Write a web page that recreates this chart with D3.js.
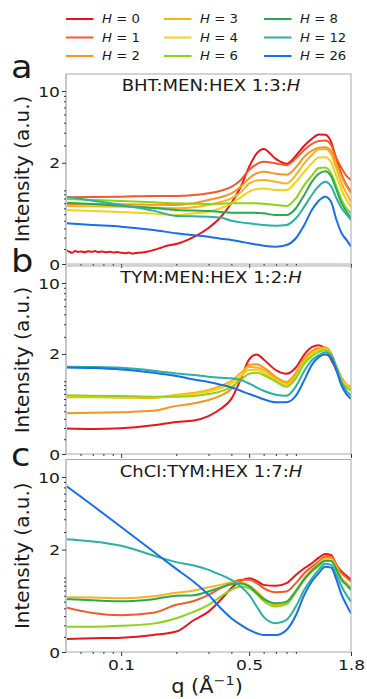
<!DOCTYPE html>
<html>
<head>
<meta charset="utf-8">
<script src="https://cdn.jsdelivr.net/npm/d3@7"></script>
<style>
  body { margin: 0; background: #fff; }
  svg { display: block; }
  text { font-family: "DejaVu Sans", sans-serif; fill: #1a1a1a; }
</style>
</head>
<body>
<svg id="chart" width="367" height="699"></svg>
<script>
// water content H and its colour
const hLevels = [0, 1, 2, 3, 4, 6, 8, 12, 26];
const hColors = ["#e8161b", "#f15a29", "#f7941d", "#fbb117", "#f4d119", "#8dd316", "#27ab4c", "#2bb1a0", "#1670e8"];

const qGrid = [0.05, 0.07, 0.1, 0.15, 0.2, 0.25, 0.3, 0.35, 0.4, 0.45, 0.5, 0.55, 0.6, 0.7, 0.8, 0.9, 1.0, 1.1, 1.2, 1.3, 1.4, 1.5, 1.6, 1.7, 1.8];
// denser grid for the noisy H = 0 trace of panel a
const qA0 = [0.05, 0.052, 0.054, 0.056, 0.058, 0.06, 0.063, 0.066, 0.069, 0.072, 0.075, 0.079, 0.083, 0.087, 0.091, 0.095, 0.1, 0.105, 0.11, 0.115, 0.12, 0.13, 0.14, 0.15, 0.165, 0.18, 0.2, 0.25, 0.3, 0.35, 0.4, 0.45, 0.5, 0.55, 0.6, 0.7, 0.8, 0.9, 1.0, 1.1, 1.2, 1.3, 1.4, 1.5, 1.6, 1.7, 1.8];

const qTicks = [0.1, 0.5, 1.8];
const qMinor = [0.06, 0.07, 0.08, 0.09, 0.2, 0.3, 0.4, 0.6, 0.7, 0.8, 0.9];
const yTicks = [0, 2, 10];
const yMinor = [0.1, 0.2, 0.3, 0.4, 0.5, 0.6, 0.7, 0.8, 0.9, 1, 3, 4, 5, 6, 7, 8, 9];

// panel a: BHT:MEN:HEX 1:3:H
const aH0 = [0.092, 0.080, 0.072, 0.085, 0.078, 0.082, 0.076, 0.083, 0.079, 0.084, 0.077, 0.081, 0.075, 0.080, 0.074, 0.078, 0.072, 0.069, 0.073, 0.066, 0.070, 0.074, 0.081, 0.092, 0.11, 0.128, 0.141, 0.207, 0.306, 0.456, 0.705, 1.10, 1.81, 2.50, 2.77, 2.19, 1.95, 2.36, 2.98, 3.48, 3.84, 3.82, 3.27, 2.14, 1.49, 1.15, 0.96];
const aH1 = [0.83, 0.835, 0.843, 0.858, 0.858, 0.88, 0.924, 0.99, 1.10, 1.31, 1.68, 1.94, 2.05, 1.97, 1.89, 2.22, 2.70, 3.10, 3.32, 3.35, 3.03, 2.22, 1.75, 1.45, 1.31];
const aH2 = [0.684, 0.684, 0.677, 0.671, 0.664, 0.697, 0.768, 0.828, 0.924, 1.10, 1.37, 1.55, 1.61, 1.53, 1.49, 1.79, 2.31, 2.66, 2.85, 2.87, 2.64, 1.97, 1.43, 1.12, 0.924];
const aH3 = [0.645, 0.638, 0.632, 0.614, 0.602, 0.62, 0.664, 0.725, 0.805, 0.95, 1.20, 1.29, 1.31, 1.25, 1.20, 1.49, 1.97, 2.40, 2.74, 2.76, 2.46, 1.75, 1.20, 0.924, 0.732];
const aH4 = [0.571, 0.554, 0.537, 0.509, 0.487, 0.514, 0.542, 0.602, 0.697, 0.828, 0.967, 1.04, 1.05, 1.01, 1.01, 1.25, 1.61, 1.97, 2.26, 2.28, 2.04, 1.43, 1.01, 0.768, 0.632];
const aH6 = [0.79, 0.768, 0.746, 0.718, 0.697, 0.69, 0.684, 0.69, 0.697, 0.697, 0.697, 0.697, 0.69, 0.664, 0.645, 0.805, 1.15, 1.46, 1.76, 1.79, 1.55, 1.10, 0.768, 0.602, 0.514];
const aH8 = [0.711, 0.684, 0.651, 0.608, 0.571, 0.56, 0.554, 0.537, 0.525, 0.525, 0.525, 0.52, 0.514, 0.487, 0.487, 0.602, 0.883, 1.25, 1.53, 1.63, 1.45, 1.01, 0.697, 0.542, 0.436];
const aH12 = [0.843, 0.753, 0.664, 0.56, 0.471, 0.466, 0.461, 0.446, 0.401, 0.378, 0.365, 0.352, 0.343, 0.335, 0.343, 0.436, 0.632, 0.883, 1.12, 1.25, 1.12, 0.805, 0.602, 0.498, 0.411];
const aH26 = [0.365, 0.343, 0.322, 0.282, 0.245, 0.224, 0.21, 0.19, 0.178, 0.162, 0.147, 0.136, 0.127, 0.119, 0.133, 0.194, 0.343, 0.571, 0.753, 0.843, 0.732, 0.411, 0.245, 0.178, 0.119];

// panel b: TYM:MEN:HEX 1:2:H
const bH0 = [0.194, 0.19, 0.197, 0.228, 0.264, 0.282, 0.335, 0.436, 0.602, 1.05, 1.75, 1.97, 1.75, 1.34, 1.22, 1.43, 1.97, 2.35, 2.46, 2.28, 1.75, 1.34, 1.05, 0.883, 0.805];
const bH2 = [0.374, 0.378, 0.388, 0.406, 0.482, 0.525, 0.583, 0.664, 0.805, 1.12, 1.53, 1.55, 1.43, 1.12, 0.98, 1.25, 1.79, 2.14, 2.31, 2.35, 2.05, 1.46, 1.10, 0.924, 0.843];
const bH3 = [0.632, 0.632, 0.626, 0.62, 0.684, 0.725, 0.783, 0.883, 1.01, 1.25, 1.45, 1.43, 1.34, 1.08, 0.94, 1.18, 1.71, 2.05, 2.24, 2.29, 2.00, 1.43, 1.05, 0.91, 0.828];
const bH4 = [0.651, 0.651, 0.645, 0.638, 0.664, 0.697, 0.746, 0.828, 0.94, 1.15, 1.34, 1.34, 1.25, 1.03, 0.91, 1.13, 1.66, 2.00, 2.19, 2.24, 1.97, 1.43, 1.04, 0.883, 0.805];
const bH6 = [0.671, 0.664, 0.658, 0.645, 0.645, 0.658, 0.697, 0.753, 0.859, 1.03, 1.22, 1.25, 1.18, 0.99, 0.859, 1.08, 1.58, 1.89, 2.10, 2.19, 1.97, 1.43, 0.98, 0.843, 0.768];
const bH12 = [1.46, 1.45, 1.42, 1.32, 1.23, 1.18, 1.13, 1.10, 1.08, 1.03, 0.94, 0.843, 0.768, 0.684, 0.664, 0.867, 1.31, 1.71, 1.94, 2.07, 1.94, 1.43, 0.967, 0.768, 0.664];
const bH26 = [1.43, 1.41, 1.36, 1.25, 1.15, 1.05, 0.98, 0.91, 0.843, 0.768, 0.697, 0.645, 0.596, 0.542, 0.542, 0.664, 1.03, 1.53, 1.85, 1.97, 1.82, 1.31, 0.883, 0.697, 0.602];

// panel c: ChCl:TYM:HEX 1:7:H
const cH0 = [0.084, 0.089, 0.094, 0.115, 0.143, 0.255, 0.355, 0.53, 0.75, 0.915, 0.98, 0.915, 0.82, 0.80, 0.86, 1.07, 1.27, 1.44, 1.65, 1.80, 1.76, 1.38, 1.17, 1.05, 0.94];
const cH1 = [0.41, 0.337, 0.31, 0.34, 0.45, 0.51, 0.615, 0.75, 0.86, 0.94, 0.94, 0.86, 0.75, 0.665, 0.68, 0.86, 1.12, 1.32, 1.50, 1.70, 1.70, 1.38, 1.12, 1.0, 0.90];
const cH3 = [0.574, 0.568, 0.557, 0.59, 0.655, 0.70, 0.765, 0.82, 0.875, 0.875, 0.805, 0.68, 0.557, 0.45, 0.475, 0.68, 0.98, 1.22, 1.44, 1.63, 1.63, 1.32, 0.98, 0.86, 0.75];
const cH6 = [0.187, 0.187, 0.195, 0.217, 0.275, 0.355, 0.45, 0.585, 0.715, 0.785, 0.75, 0.63, 0.51, 0.425, 0.46, 0.665, 0.94, 1.17, 1.35, 1.53, 1.53, 1.22, 0.94, 0.82, 0.715];
const cH8 = [0.54, 0.523, 0.505, 0.54, 0.60, 0.61, 0.68, 0.765, 0.835, 0.85, 0.785, 0.65, 0.545, 0.475, 0.50, 0.695, 0.96, 1.19, 1.38, 1.53, 1.53, 1.22, 0.94, 0.82, 0.715];
const cH12 = [2.55, 2.42, 2.19, 1.74, 1.48, 1.36, 1.22, 1.07, 0.94, 0.785, 0.615, 0.425, 0.29, 0.22, 0.256, 0.425, 0.715, 0.98, 1.22, 1.42, 1.38, 1.07, 0.785, 0.615, 0.50];
const cH26 = [8.3, 5.4, 3.36, 1.91, 1.25, 0.885, 0.615, 0.40, 0.275, 0.204, 0.157, 0.129, 0.115, 0.115, 0.157, 0.31, 0.615, 0.90, 1.12, 1.32, 1.29, 0.94, 0.615, 0.45, 0.33];

const panels = [
    { letter: "a", title: "BHT:MEN:HEX 1:3:", series: [[0, qA0, aH0], [1, qGrid, aH1], [2, qGrid, aH2], [3, qGrid, aH3], [4, qGrid, aH4], [6, qGrid, aH6], [8, qGrid, aH8], [12, qGrid, aH12], [26, qGrid, aH26]] },
    { letter: "b", title: "TYM:MEN:HEX 1:2:", series: [[0, qGrid, bH0], [2, qGrid, bH2], [3, qGrid, bH3], [4, qGrid, bH4], [6, qGrid, bH6], [12, qGrid, bH12], [26, qGrid, bH26]] },
    { letter: "c", title: "ChCl:TYM:HEX 1:7:", series: [[0, qGrid, cH0], [1, qGrid, cH1], [3, qGrid, cH3], [6, qGrid, cH6], [8, qGrid, cH8], [12, qGrid, cH12], [26, qGrid, cH26]] }
];

// layout
const plotLeft = 66, plotRight = 351;
const boxes = [
    { top: 74, zero: 264, ten: 91, letterY: 78 },
    { top: 266, zero: 454, ten: 283, letterY: 272 },
    { top: 459.5, zero: 652, ten: 477, letterY: 466 }
];
const textStretch = 1.22;

const svg = d3.select("#chart");
const color = d3.scaleOrdinal().domain(hLevels).range(hColors);
const x = d3.scaleLog().domain([0.05, 1.8]).range([plotLeft, plotRight]);

// legend, 3 columns
const legendCols = [66, 164, 264];
const legendRows = [19, 37.5, 56];
hLevels.forEach((h, i) => {
    let lx = legendCols[Math.floor(i / 3)], ly = legendRows[i % 3];
    svg.append("line")
        .attr("x1", lx).attr("x2", lx + 27.5)
        .attr("y1", ly).attr("y2", ly)
        .attr("stroke", color(h))
        .attr("stroke-width", 2);
    let t = svg.append("text")
        .attr("transform", `translate(${lx + 36},${ly + 4.3}) scale(1.15,1)`)
        .attr("font-size", 11.5);
    t.append("tspan").attr("font-style", "italic").text("H");
    t.append("tspan").text(" = " + h);
});

panels.forEach((p, pi) => {
    let box = boxes[pi];
    let y = d3.scaleSymlog().constant(0.27).domain([0, 10]).range([box.zero, box.ten]);
    let g = svg.append("g");

    g.append("clipPath").attr("id", "clip" + pi)
        .append("rect")
        .attr("x", plotLeft).attr("y", box.top)
        .attr("width", plotRight - plotLeft).attr("height", box.zero - box.top);

    let line = d3.line()
        .x(d => x(d[0]))
        .y(d => y(d[1]))
        .curve(d3.curveMonotoneX);

    g.append("g").attr("clip-path", `url(#clip${pi})`)
        .selectAll("path")
        .data(p.series)
        .enter()
        .append("path")
        .attr("d", s => line(s[1].map((q, i) => [q, s[2][i]])))
        .attr("fill", "none")
        .attr("stroke", s => color(s[0]))
        .attr("stroke-width", 2)
        .attr("stroke-linejoin", "round");

    // frame
    g.append("rect")
        .attr("x", plotLeft).attr("y", box.top)
        .attr("width", plotRight - plotLeft).attr("height", box.zero - box.top)
        .attr("fill", "none")
        .attr("stroke", "#a8a8a8")
        .attr("stroke-width", 1);
    g.append("line")
        .attr("x1", plotLeft).attr("x2", plotLeft)
        .attr("y1", box.top).attr("y2", box.zero)
        .attr("stroke", "#c6c6c6")
        .attr("stroke-width", 2);

    // y axis
    let yAxis = g.append("g")
        .attr("transform", `translate(${plotLeft},0)`)
        .call(d3.axisLeft(y).tickValues(yTicks).tickSize(4).tickPadding(2).tickFormat(d3.format("d")));
    g.append("g")
        .attr("transform", `translate(${plotLeft},0)`)
        .call(d3.axisLeft(y).tickValues(yMinor).tickSize(2).tickFormat(""))
        .call(a => a.select(".domain").remove());
    yAxis.select(".domain").remove();
    yAxis.selectAll("text")
        .attr("x", 0)
        .attr("dy", "0.36em")
        .attr("transform", `translate(-6,0) scale(${textStretch},1)`)
        .attr("font-size", 14)
        .attr("font-family", "DejaVu Sans");

    // x axis
    let xAxis = g.append("g")
        .attr("transform", `translate(0,${box.zero})`)
        .call(d3.axisBottom(x).tickValues(qTicks).tickSize(4).tickPadding(4)
            .tickFormat(pi === 2 ? d3.format("") : ""));
    g.append("g")
        .attr("transform", `translate(0,${box.zero})`)
        .call(d3.axisBottom(x).tickValues(qMinor).tickSize(2).tickFormat(""))
        .call(a => a.select(".domain").remove());
    xAxis.select(".domain").remove();
    xAxis.selectAll("text")
        .attr("transform", `scale(${textStretch},1)`)
        .attr("font-size", 14)
        .attr("font-family", "DejaVu Sans");

    g.selectAll(".tick line").attr("stroke", "#333");

    // title inside the panel
    let t = g.append("text")
        .attr("transform", `translate(211,${box.top + 17}) scale(1.2,1)`)
        .attr("text-anchor", "middle")
        .attr("font-size", 15);
    t.append("tspan").text(p.title);
    t.append("tspan").attr("font-style", "italic").text("H");

    // panel letter
    g.append("text")
        .attr("transform", `translate(11,${box.letterY}) scale(1.1,1)`)
        .attr("font-size", 32)
        .text(p.letter);

    // y label
    g.append("text")
        .attr("transform", `translate(29,${(box.top + box.zero) / 2}) rotate(-90)`)
        .attr("text-anchor", "middle")
        .attr("font-size", 20)
        .text("Intensity (a.u.)");
});

// x label
let xl = svg.append("text")
    .attr("transform", "translate(207,693) scale(1.1,1)")
    .attr("text-anchor", "middle")
    .attr("font-size", 19);
xl.append("tspan").text("q (Å");
xl.append("tspan").attr("dy", -8).attr("font-size", 13).text("−1");
xl.append("tspan").attr("dy", 8).text(")");
</script>
</body>
</html>
